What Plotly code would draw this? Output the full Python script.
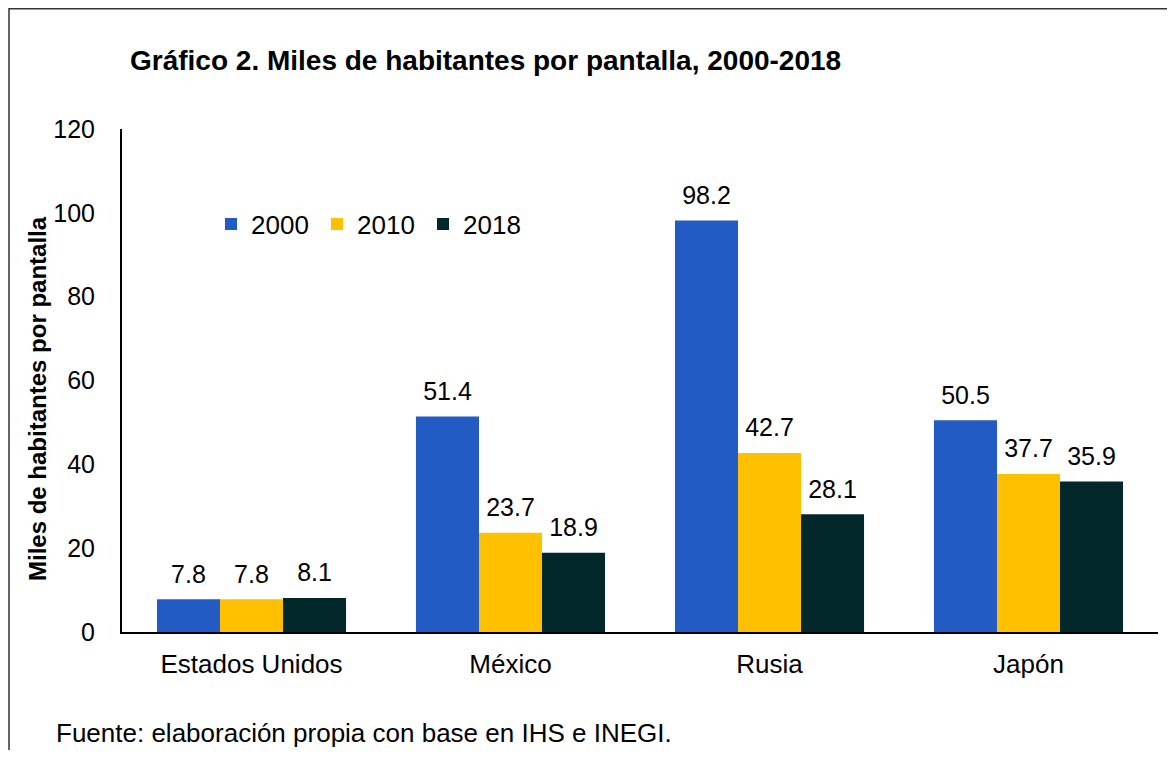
import plotly.graph_objects as go

categories = ["Estados Unidos", "México", "Rusia", "Japón"]
years = ["2000", "2010", "2018"]
v2000 = [7.8, 51.4, 98.2, 50.5]
v2010 = [7.8, 23.7, 42.7, 37.7]
v2018 = [8.1, 18.9, 28.1, 35.9]
colors = ["#225BC3", "#FFC000", "#03282C"]
y_ticks = [0, 20, 40, 60, 80, 100, 120]

FONT = "Liberation Sans, Arial, sans-serif"

# the page body has an 8px margin; work in figure coordinates (reference px - 8)
OFF = 8
W, H = 1175 - 2 * OFF, 758 - 2 * OFF
L, R, T, B = 114, 9, 121, 118
pw, ph = W - L - R, H - T - B


def px(X):
    return (X - OFF - L) / pw


def py(Y):
    return (H - B - (Y - OFF)) / ph


fig = go.Figure()
for name, vals, col in zip(years, [v2000, v2010, v2018], colors):
    fig.add_trace(go.Bar(
        x=categories, y=vals, name=name, offsetgroup=name,
        marker=dict(color=col, line=dict(width=0)),
    ))
for name, vals in zip(years, [v2000, v2010, v2018]):
    fig.add_trace(go.Scatter(
        x=categories, y=vals, offsetgroup=name, mode="markers+text",
        marker=dict(size=15, color="rgba(0,0,0,0)"),
        text=[f"{v:.1f}" for v in vals], textposition="top center",
        textfont=dict(size=25, color="black", family=FONT),
        showlegend=False, hoverinfo="skip", cliponaxis=False,
    ))

fig.update_layout(
    width=W, height=H,
    margin=dict(l=L, r=R, t=T, b=B, autoexpand=False),
    paper_bgcolor="white", plot_bgcolor="white",
    font=dict(family=FONT, size=25, color="black"),
    barmode="group", bargap=0.27, bargroupgap=0,
    scattermode="group", scattergap=0.27,
    title=dict(text="<b>Gráfico 2. Miles de habitantes por pantalla, 2000-2018</b>",
               x=(130 - OFF) / W, xanchor="left", y=1 - (60 - OFF) / H, yanchor="middle",
               font=dict(size=28, family=FONT, color="black")),
    legend=dict(orientation="h", x=px(211), y=py(224), xanchor="left", yanchor="middle",
                font=dict(size=26, family=FONT), bgcolor="rgba(0,0,0,0)",
                entrywidth=61, entrywidthmode="pixels"),
    xaxis=dict(showline=True, linecolor="black", linewidth=2, ticks="", showgrid=False,
               tickfont=dict(size=26, family=FONT), ticklabelstandoff=8),
    yaxis=dict(range=[0, 120], tickvals=y_ticks, showline=True, linecolor="black", linewidth=2,
               ticks="", showgrid=False, zeroline=False,
               tickfont=dict(size=25, family=FONT), ticklabelstandoff=20),
    showlegend=True,
)

fig.add_annotation(text="<b>Miles de habitantes por pantalla</b>",
                   xref="paper", yref="paper", x=px(37), y=py(399),
                   xanchor="center", yanchor="middle", textangle=-90, showarrow=False,
                   font=dict(size=24, family=FONT, color="black"))

fig.add_annotation(text="Fuente: elaboración propia con base en IHS e INEGI.",
                   xref="paper", yref="paper", x=px(54), y=py(733),
                   xanchor="left", yanchor="middle", showarrow=False,
                   font=dict(size=26, family=FONT, color="black"))

fig.add_shape(type="rect", xref="paper", yref="paper",
              x0=px(OFF + 1), y0=py(790), x1=px(1200), y1=py(OFF + 0.75),
              line=dict(color="#333333", width=1.5), layer="below")

fig.write_html("out.html")
